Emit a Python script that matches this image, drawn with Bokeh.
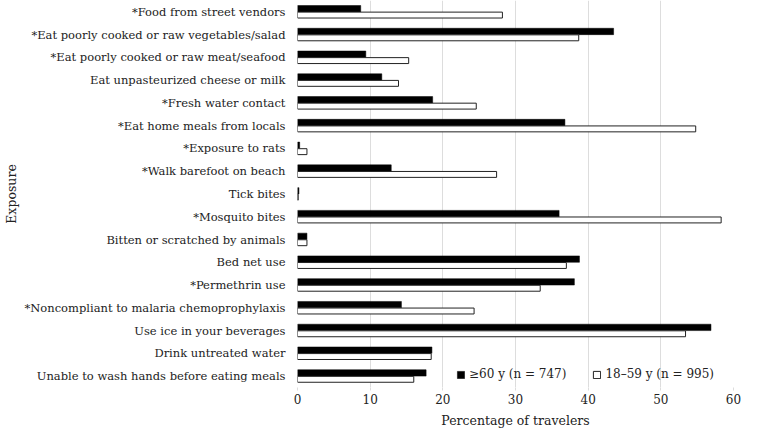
from bokeh.plotting import figure
from bokeh.models import FactorRange, ColumnDataSource, Legend, LegendItem, FixedTicker
from bokeh.transform import dodge
from bokeh.embed import file_html
from bokeh.resources import INLINE

exposures = [
    "*Food from street vendors",
    "*Eat poorly cooked or raw vegetables/salad",
    "*Eat poorly cooked or raw meat/seafood",
    "Eat unpasteurized cheese or milk",
    "*Fresh water contact",
    "*Eat home meals from locals",
    "*Exposure to rats",
    "*Walk barefoot on beach",
    "Tick bites",
    "*Mosquito bites",
    "Bitten or scratched by animals",
    "Bed net use",
    "*Permethrin use",
    "*Noncompliant to malaria chemoprophylaxis",
    "Use ice in your beverages",
    "Drink untreated water",
    "Unable to wash hands before eating meals",
]
older = [8.7, 43.5, 9.4, 11.6, 18.6, 36.8, 0.3, 12.9, 0.2, 36.0, 1.3, 38.8, 38.1, 14.3, 56.9, 18.5, 17.7]
younger = [28.2, 38.7, 15.3, 13.9, 24.6, 54.8, 1.3, 27.4, 0.1, 58.3, 1.3, 37.0, 33.4, 24.3, 53.4, 18.4, 16.0]
x_ticks = [0, 10, 20, 30, 40, 50, 60]
legend_labels = ["\u226560 y (n = 747)", "18\u201359 y (n = 995)"]

FONT = "DejaVu Serif"

src = ColumnDataSource(dict(exposure=exposures, older=older, younger=younger))

p = figure(
    y_range=FactorRange(factors=list(reversed(exposures))),
    x_range=(0, 60),
    width=741, height=430,
    output_backend="svg", toolbar_location=None,
    min_border_left=286, min_border_right=8, min_border_top=0,
)
p.background_fill_color = "white"
p.border_fill_color = "white"
p.outline_line_color = None

r1 = p.hbar(y=dodge("exposure", 0.14, range=p.y_range), left=0, right="older",
            height=0.28, fill_color="black", line_color="black", line_width=0.5, source=src)
r2 = p.hbar(y=dodge("exposure", -0.14, range=p.y_range), left=0, right="younger",
            height=0.26, fill_color="white", line_color="#222222", line_width=1, source=src)

p.ygrid.grid_line_color = None
p.xgrid.grid_line_color = "#dddddd"
p.xgrid.grid_line_width = 1

xa = p.xaxis[0]
xa.ticker = FixedTicker(ticks=x_ticks)
xa.axis_line_color = None
xa.major_tick_line_color = "#dddddd"
xa.major_tick_in = 0
xa.major_tick_out = 3
xa.minor_tick_line_color = None
xa.major_label_standoff = 3
xa.major_label_text_font = FONT
xa.major_label_text_font_size = "12px"
xa.major_label_text_color = "#222222"
xa.axis_label = "Percentage of travelers"
xa.axis_label_text_font = FONT
xa.axis_label_text_font_size = "12.5px"
xa.axis_label_text_font_style = "normal"
xa.axis_label_text_color = "#222222"
xa.axis_label_standoff = 6

ya = p.yaxis[0]
ya.axis_line_color = None
ya.major_tick_line_color = None
ya.minor_tick_line_color = None
ya.major_label_text_font = FONT
ya.major_label_text_font_size = "11.5px"
ya.major_label_text_color = "#222222"
ya.major_label_standoff = 6
ya.axis_label = "Exposure"
ya.axis_label_text_font = FONT
ya.axis_label_text_font_size = "12.5px"
ya.axis_label_text_font_style = "normal"
ya.axis_label_text_color = "#222222"
ya.axis_label_standoff = 3

legend = Legend(
    items=[LegendItem(label=legend_labels[0], renderers=[r1]),
           LegendItem(label=legend_labels[1], renderers=[r2])],
    orientation="horizontal",
    location=(159, 6),
    label_text_font=FONT,
    label_text_font_size="12px",
    label_text_color="#222222",
    glyph_width=9, glyph_height=9,
    label_standoff=4,
    spacing=26,
    padding=0, margin=0,
    border_line_color=None,
    background_fill_alpha=0,
)
p.add_layout(legend)

open("out.html", "w").write(file_html(p, INLINE))
